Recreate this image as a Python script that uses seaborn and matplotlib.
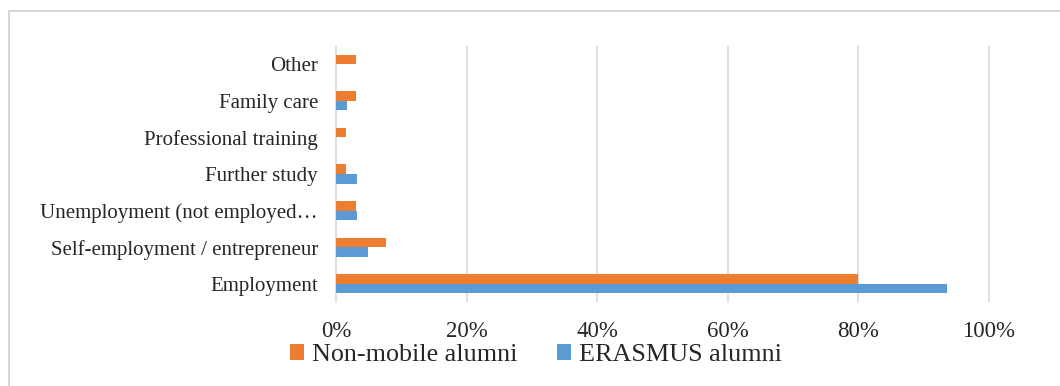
import matplotlib
matplotlib.use("Agg")
import matplotlib.pyplot as plt
from matplotlib.patches import Rectangle, Patch
from matplotlib.ticker import PercentFormatter
import seaborn as sns
import pandas as pd

# Post-graduation outcomes, share of respondents in each group
outcomes = [
    "Other",
    "Family care",
    "Professional training",
    "Further study",
    "Unemployment (not employed\u2026",
    "Self-employment / entrepreneur",
    "Employment",
]
groups = ["Non-mobile alumni", "ERASMUS alumni"]
non_mobile = [0.0308, 0.0308, 0.0154, 0.0154, 0.0308, 0.0769, 0.800]
erasmus = [0.0, 0.0161, 0.0, 0.0323, 0.0323, 0.0484, 0.9355]
x_ticks = [0.0, 0.2, 0.4, 0.6, 0.8, 1.0]

colors = {"Non-mobile alumni": "#ED7D31", "ERASMUS alumni": "#5B9BD5"}

df = pd.DataFrame({
    "outcome": outcomes * 2,
    "group": [groups[0]] * len(outcomes) + [groups[1]] * len(outcomes),
    "share": non_mobile + erasmus,
})

sns.set_theme(style="white")
plt.rcParams["font.family"] = ["Liberation Serif", "DejaVu Serif"]

W, H = 1060, 386
fig = plt.figure(figsize=(W / 100, H / 100), dpi=100)
ax = fig.add_axes([336 / W, 1 - 302 / H, (989 - 336) / W, (302 - 46) / H])

sns.barplot(
    data=df, x="share", y="outcome", hue="group", order=outcomes,
    hue_order=groups, palette=colors, orient="h", width=0.52,
    linewidth=0, saturation=1, legend=False, ax=ax,
)

ax.set_xlim(0, 1.0)
ax.set_xticks(x_ticks)
ax.xaxis.set_major_formatter(PercentFormatter(1.0, decimals=0))
ax.set_xlabel("")
ax.set_ylabel("")
for s in ax.spines.values():
    s.set_visible(False)
ax.grid(axis="x", color="#D9D9D9", linewidth=1.2)
ax.grid(axis="y", visible=False)
for gl in ax.get_xgridlines():
    gl.set_clip_on(False)
ax.set_axisbelow(True)
ax.tick_params(axis="x", length=0, pad=14, labelsize=16.5, labelcolor="#262626")
ax.tick_params(axis="y", length=0, pad=13, labelsize=15.0, labelcolor="#262626")

# Legend below the plot
handles = [Patch(facecolor=colors[g], edgecolor="none") for g in groups]
fig.legend(
    handles, groups, loc="center", bbox_to_anchor=(0.5 + 6 / W, 1 - 355 / H),
    ncol=2, frameon=False, fontsize=18.8, handlelength=0.55, handleheight=0.55,
    handletextpad=0.3, columnspacing=1.5, labelcolor="#262626",
)

# Chart frame
fig.patches.append(Rectangle(
    (8.5 / W, -0.1), 1.2, 1.1 - 11 / H, transform=fig.transFigure,
    facecolor="none", edgecolor="#D0D0D0", linewidth=1.2,
))

fig.savefig("out.png", dpi=100)
